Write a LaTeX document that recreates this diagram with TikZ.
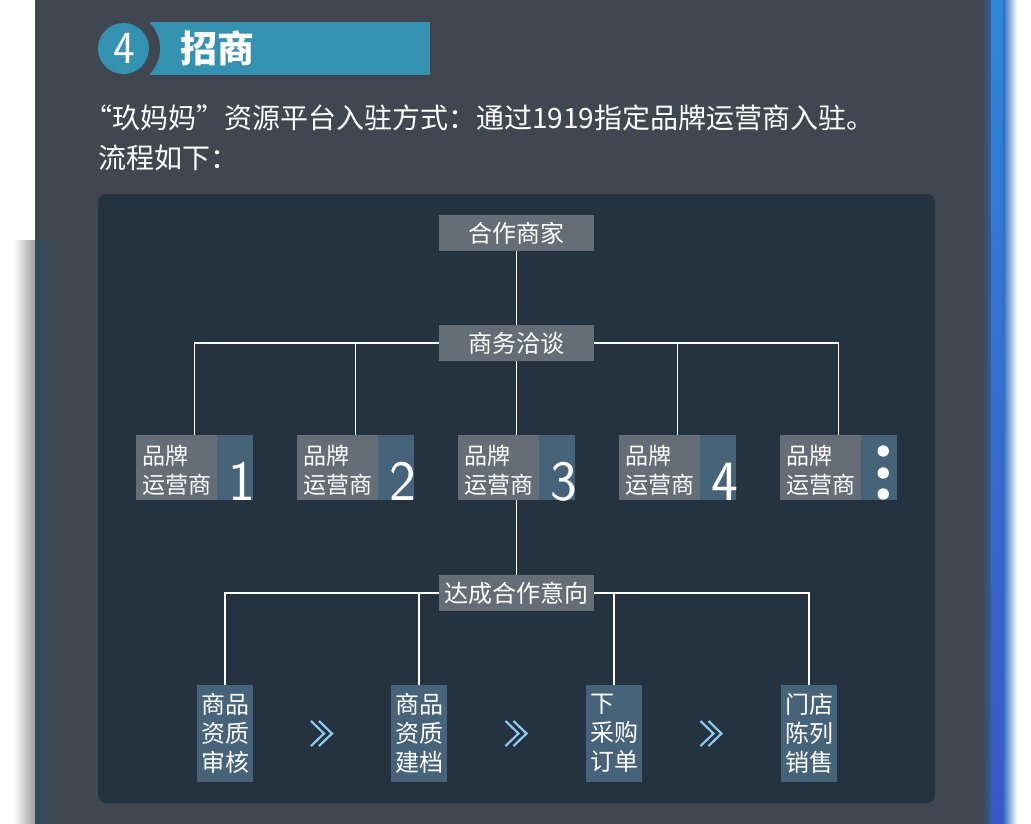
\documentclass[tikz,border=0pt]{standalone}
\usepackage{fontspec}
\newfontfamily\cjk{Noto Sans CJK SC}
\usetikzlibrary{calc}
\definecolor{panel}{HTML}{414751}
\definecolor{darkpanel}{HTML}{253240}
\definecolor{graybox}{HTML}{656E76}
\definecolor{bluebox}{HTML}{47637A}
\definecolor{tealc}{HTML}{3492B0}
\definecolor{chevc}{HTML}{8CCBEE}
\definecolor{tealedge}{HTML}{2E4E5E}
\definecolor{glowA}{HTML}{2A5F9F}
\definecolor{glowB}{HTML}{2F86D8}
\definecolor{glowC}{HTML}{3B55C8}
\definecolor{glowD}{HTML}{2B6CC0}
\begin{document}
\begin{tikzpicture}[x=1pt,y=-1pt,
  conn/.style={draw=white,line width=1.2pt},
  topbox/.style={fill=graybox,minimum width=155pt,minimum height=36pt,inner sep=0pt,text=white,font=\cjk\fontsize{24}{24}\selectfont},
  brandbox/.style={fill=bluebox,minimum width=117pt,minimum height=65pt,inner sep=0pt},
  brandgray/.style={fill=graybox,minimum width=81pt,minimum height=65pt,inner sep=0pt,anchor=west},
  brandlabel/.style={inner sep=0pt,text=white,align=left,font=\cjk\fontsize{23}{29}\selectfont},
  bignum/.style={text=white,inner sep=0pt,anchor=base east,font=\sffamily\fontsize{57}{57}\selectfont},
  stepbox/.style={fill=bluebox,minimum width=56pt,minimum height=97pt,inner sep=0pt,text=white,align=left,font=\cjk\fontsize{24}{29}\selectfont},
  chevline/.style={draw=chevc,line width=2.2pt},
  maintext/.style={text=white,anchor=west,inner sep=0pt,font=\cjk\fontsize{28}{28}\selectfont}
]
\useasboundingbox (0,0) rectangle (1031,823);
% backgrounds
\fill[white] (-5,-5) rectangle (1040,835);
\shade[left color=white,right color=gray!75] (13,240) rectangle (35,835);
\fill[panel] (35,-5) rectangle (982,835);
\shade[left color=tealedge,right color=panel] (35,240) rectangle (56,835);
\shade[left color=panel,right color=glowA] (982,-5) rectangle (991,835);
\shade[top color=glowB,bottom color=glowC] (991,-5) rectangle (1003,835);
\shade[left color=glowD,right color=white] (1003,-5) rectangle (1017,835);
\fill[darkpanel,rounded corners=8pt] (98,194) rectangle (935,803);
% header
\fill[tealc] (150,22) rectangle (430,75);
\fill[panel] (123,48.5) circle (37);
\fill[tealc] (123.5,48.5) circle (25.5);
\node[text=white,inner sep=0pt,font=\sffamily\fontsize{46}{46}\selectfont] (num4) at (124,48.5) {4};
\node[text=white,inner sep=0pt,font=\cjk\bfseries\fontsize{37}{37}\selectfont] (title) at (217,48.5) {招商};
\node[maintext] (line1) at (84,118) {“玖妈妈”资源平台入驻方式：通过1919指定品牌运营商入驻。};
\node[maintext] (line2) at (98,158) {流程如下：};
% diagram
\node[topbox] (hz) at (516.5,233) {合作商家};
\node[topbox] (ts) at (516.5,343) {商务洽谈};
\node[topbox] (dc) at (516.5,593) {达成合作意向};
\foreach \i in {1,...,5} {
  \node[brandbox] (br\i) at ({194.5+161*(\i-1)},467.5) {};
  \node[brandgray] (bg\i) at (br\i.west) {};
  \node[brandlabel] (bl\i) at ($(bg\i.center)+(0,3)$) {品牌\\运营商};
}
\foreach \i in {1,...,4} {
  \node[bignum] (bn\i) at ($(br\i.south east)+(2,0)$) {\i};
}
\foreach \dy in {-16.5,5.5,26.5} {
  \fill[white] ($(br5.east)+(-14,\dy)$) circle (5.7);
}
\node[stepbox] (p1) at (225,733.5) {商品\\资质\\审核};
\node[stepbox] (p2) at (419,733.5) {商品\\资质\\建档};
\node[stepbox] (p3) at (614,733.5) {下\\采购\\订单};
\node[stepbox] (p4) at (809,733.5) {门店\\陈列\\销售};
% connectors
\draw[conn] (hz.south) -- (ts.north);
\draw[conn] (ts.west) -| (br1.north);
\draw[conn] (ts.west) -| (br2.north);
\draw[conn] (ts.south) -- (br3.north);
\draw[conn] (ts.east) -| (br4.north);
\draw[conn] (ts.east) -| (br5.north);
\draw[conn] (br3.south) -- (dc.north);
\draw[conn] (dc.west) -| (p1.north);
\draw[conn] (dc.west) -| (p2.north);
\draw[conn] (dc.east) -| (p3.north);
\draw[conn] (dc.east) -| (p4.north);
% chevrons
\foreach \a/\b in {p1/p2,p2/p3,p3/p4} {
  \coordinate (m\a) at ($(\a)!0.5!(\b)$);
  \draw[chevline] ($(m\a)+(-11,-12.5)$) -- ($(m\a)+(2,0)$) -- ($(m\a)+(-11,12.5)$);
  \draw[chevline] ($(m\a)+(-3,-12.5)$) -- ($(m\a)+(10,0)$) -- ($(m\a)+(-3,12.5)$);
}
\end{tikzpicture}
\end{document}
